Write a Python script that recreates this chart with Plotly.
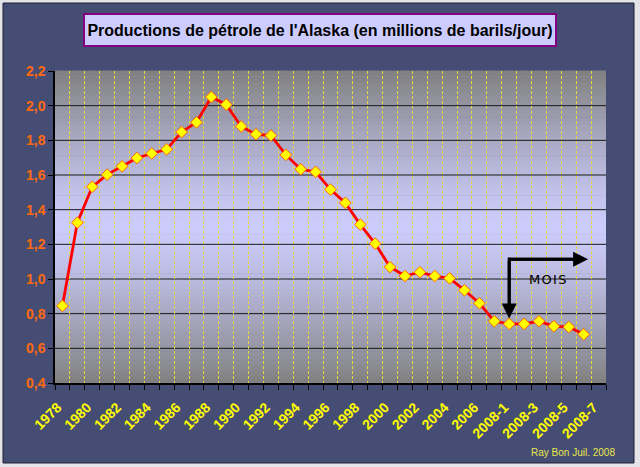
import plotly.graph_objects as go

# ---- data ----
years = [str(y) for y in range(1978, 2008)]
months = ["2008-%d" % m for m in range(1, 8)]
categories = years + months

production = [
    0.845, 1.325, 1.532, 1.602, 1.650, 1.698, 1.724, 1.748, 1.848, 1.904,
    2.050, 2.006, 1.880, 1.835, 1.828, 1.716, 1.633, 1.618, 1.516, 1.439,
    1.314, 1.204, 1.069, 1.017, 1.039, 1.017, 1.004, 0.935, 0.860, 0.756,
    0.741, 0.741, 0.756, 0.727, 0.723, 0.681, None,
]

tick_labels = [c if i % 2 == 0 else "" for i, c in enumerate(categories)]
y_grid = [0.6, 0.8, 1.0, 1.2, 1.4, 1.6, 1.8, 2.0]

title_text = "Productions de pétrole de l'Alaska (en millions de barils/jour)"
credit_text = "Ray Bon Juil. 2008"

# arrow annotation ("MOIS") anchors
arrow_corner = (30, 1.114)
arrow_down_tip = (30, 0.772)
arrow_right_tip = (35.3, 1.114)
mois_pos = (32.56, 0.997)

# ---- figure ----
W, H = 640, 467
L, R, T, B = 55, 34, 71, 84
pw, ph = W - L - R, H - T - B


def px_x(p):
    return (p - L) / pw


def px_y(p):
    return (H - B - p) / ph


fig = go.Figure()
fig.add_trace(go.Scatter(
    x=categories, y=production, mode="lines+markers",
    line=dict(color="#ff0000", width=2.8),
    marker=dict(symbol="diamond", size=9, color="#ffff00",
                line=dict(color="#ff6600", width=1)),
    connectgaps=False, hoverinfo="x+y",
))

shapes = []
# navy outer panel
shapes.append(dict(type="rect", xref="paper", yref="paper",
                   x0=px_x(3), x1=px_x(634), y0=px_y(463), y1=px_y(3),
                   fillcolor="#464d74", line=dict(color="#202030", width=1),
                   layer="below"))
# vertical gradient of plot area: gray edges, lavender centre
N = 80
edge = (128, 128, 128)
centre = (204, 204, 252)
for i in range(N):
    y0 = i / N
    y1 = (i + 1) / N
    t = abs((y0 + y1) / 2 - 0.5) * 2
    t = t ** 1.3
    c = tuple(int(round(centre[k] + (edge[k] - centre[k]) * t)) for k in range(3))
    shapes.append(dict(type="rect", xref="paper", yref="paper",
                       x0=0, x1=1, y0=y0, y1=y1 + 0.002,
                       fillcolor="rgb(%d,%d,%d)" % c, line=dict(width=0),
                       layer="below"))
# horizontal gridlines
for g in y_grid:
    shapes.append(dict(type="line", xref="paper", yref="y", x0=0, x1=1, y0=g, y1=g,
                       line=dict(color="#1a1a1a", width=1), layer="between"))
# arrow lines
shapes.append(dict(type="line", xref="x", yref="y",
                   x0=arrow_corner[0], y0=arrow_corner[1],
                   x1=arrow_right_tip[0] - 0.6, y1=arrow_right_tip[1],
                   line=dict(color="black", width=3)))
shapes.append(dict(type="line", xref="x", yref="y",
                   x0=arrow_corner[0], y0=arrow_corner[1] + 0.01,
                   x1=arrow_down_tip[0], y1=arrow_down_tip[1] + 0.04,
                   line=dict(color="black", width=3)))

annotations = [
    dict(text="<b>" + title_text + "</b>", xref="paper", yref="paper",
         x=px_x(320), y=px_y(30), xanchor="center", yanchor="middle",
         showarrow=False, font=dict(family="Arial, Liberation Sans", size=16, color="black"),
         bgcolor="#ccccff", bordercolor="#800080", borderwidth=2,
         width=468, height=28, borderpad=1),
    dict(text=credit_text, xref="paper", yref="paper",
         x=px_x(617), y=px_y(452), xanchor="right", yanchor="middle",
         showarrow=False, font=dict(family="Arial, Liberation Sans", size=10, color="#e8e84a")),
    dict(text="M O I S".replace(" ", "&#8202;"), x=mois_pos[0], y=mois_pos[1], xref="x", yref="y",
         showarrow=False, font=dict(family="DejaVu Sans, Arial", size=13, color="black")),
    dict(text="", x=arrow_down_tip[0], y=arrow_down_tip[1], xref="x", yref="y",
         ax=arrow_corner[0], ay=arrow_corner[1], axref="x", ayref="y",
         showarrow=True, arrowhead=2, arrowsize=1, arrowwidth=3, arrowcolor="black"),
    dict(text="", x=arrow_right_tip[0], y=arrow_right_tip[1], xref="x", yref="y",
         ax=arrow_corner[0], ay=arrow_corner[1], axref="x", ayref="y",
         showarrow=True, arrowhead=2, arrowsize=1, arrowwidth=3, arrowcolor="black"),
]

fig.update_layout(
    width=W, height=H,
    margin=dict(l=L, r=R, t=T, b=B, pad=0),
    paper_bgcolor="#e4e4e8",
    plot_bgcolor="#c8c8f0",
    showlegend=False,
    separators=",.",
    shapes=shapes,
    annotations=annotations,
    font=dict(family="Arial, Liberation Sans"),
)
fig.update_xaxes(
    type="category", categoryorder="array", categoryarray=categories,
    range=[-0.5, len(categories) - 0.5],
    tickmode="array", tickvals=categories, ticktext=tick_labels,
    tickson="boundaries", ticks="outside", ticklen=5, tickcolor="black",
    tickangle=-45, ticklabelstandoff=9, ticklabelshift=-5,
    tickfont=dict(family="Arial, Liberation Sans", size=14, color="#ffff00", weight="bold"),
    showgrid=True, gridcolor="#e8d840", gridwidth=1, griddash="3px,2px",
    showline=True, linecolor="black", linewidth=1.5,
    zeroline=False, fixedrange=True, automargin=False,
)
fig.update_yaxes(
    range=[0.4, 2.2], tickmode="linear", tick0=0.4, dtick=0.2, tickformat=".1f",
    ticks="outside", ticklen=5, tickcolor="black",
    tickfont=dict(family="Arial, Liberation Sans", size=14, color="#ff6a10", weight="bold"),
    showgrid=False, showline=True, linecolor="black", linewidth=1.5,
    zeroline=False, fixedrange=True, automargin=False,
)

fig.write_html("out.html", config={"displayModeBar": False},
               post_script="document.body.style.margin='0';")
